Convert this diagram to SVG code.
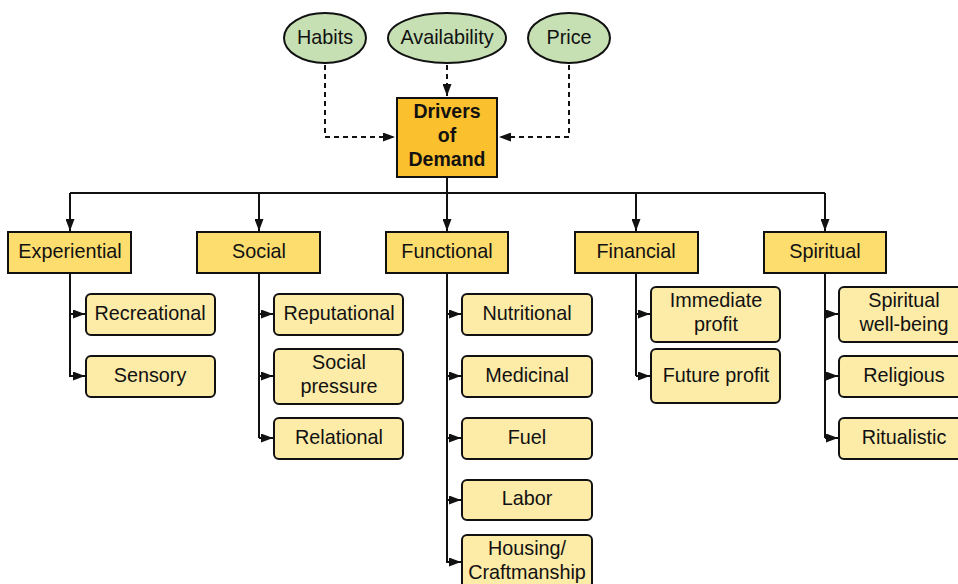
<svg xmlns="http://www.w3.org/2000/svg" width="958" height="584" viewBox="0 0 958 584">
<style>
text{font-family:"Liberation Sans",Arial,sans-serif;font-size:19.8px;fill:#111;text-anchor:middle}
.b{font-weight:bold;font-size:19.5px}
.ell{fill:#c6e0b4;stroke:#111;stroke-width:2}
.drv{fill:#fbc02d;stroke:#111;stroke-width:2}
.cat{fill:#fcdd6e;stroke:#111;stroke-width:2}
.sub{fill:#fdeba8;stroke:#111;stroke-width:2}
.ln{fill:none;stroke:#111;stroke-width:2}
.ds{fill:none;stroke:#111;stroke-width:2;stroke-dasharray:5 4}
</style>
<defs>
<marker id="ah" markerUnits="userSpaceOnUse" markerWidth="13" markerHeight="9" refX="12" refY="4.5" orient="auto"><path d="M0,0 L12,4.5 L0,9 z" fill="#111"/></marker>
</defs>
<g id="connectors">
<path class="ds" d="M325,65 V137 H395" marker-end="url(#ah)"/>
<path class="ds" d="M447,65 V96" marker-end="url(#ah)"/>
<path class="ds" d="M569,65 V137 H499" marker-end="url(#ah)"/>
<path class="ln" d="M447,177 V193" stroke-width="3"/>
<path class="ln" d="M70,193 H825"/>
<path class="ln" d="M70,193 V231" marker-end="url(#ah)"/>
<path class="ln" d="M259,193 V231" marker-end="url(#ah)"/>
<path class="ln" d="M447,193 V231" marker-end="url(#ah)"/>
<path class="ln" d="M636,193 V231" marker-end="url(#ah)"/>
<path class="ln" d="M825,193 V231" marker-end="url(#ah)"/>
<path class="ln" d="M70,273 V377"/>
<path class="ln" d="M70,314 H85" marker-end="url(#ah)"/>
<path class="ln" d="M70,376 H85" marker-end="url(#ah)"/>
<path class="ln" d="M259,273 V438"/>
<path class="ln" d="M259,314 H273" marker-end="url(#ah)"/>
<path class="ln" d="M259,376 H273" marker-end="url(#ah)"/>
<path class="ln" d="M259,438 H273" marker-end="url(#ah)"/>
<path class="ln" d="M447,273 V563" stroke-width="2.5"/>
<path class="ln" d="M447,314 H461" marker-end="url(#ah)"/>
<path class="ln" d="M447,376 H461" marker-end="url(#ah)"/>
<path class="ln" d="M447,438 H461" marker-end="url(#ah)"/>
<path class="ln" d="M447,500 H461" marker-end="url(#ah)"/>
<path class="ln" d="M447,562 H461" marker-end="url(#ah)"/>
<path class="ln" d="M636,273 V376"/>
<path class="ln" d="M636,314 H650" marker-end="url(#ah)"/>
<path class="ln" d="M636,376 H650" marker-end="url(#ah)"/>
<path class="ln" d="M825,273 V438"/>
<path class="ln" d="M825,314 H838" marker-end="url(#ah)"/>
<path class="ln" d="M825,376 H838" marker-end="url(#ah)"/>
<path class="ln" d="M825,438 H838" marker-end="url(#ah)"/>
</g>
<g id="habits"><ellipse class="ell" cx="325" cy="38" rx="41" ry="25"/><text x="325" y="44">Habits</text></g>
<g id="availability"><ellipse class="ell" cx="447" cy="38" rx="59" ry="25"/><text x="447" y="44">Availability</text></g>
<g id="price"><ellipse class="ell" cx="569" cy="38" rx="41" ry="25"/><text x="569" y="44">Price</text></g>
<g id="drivers"><rect class="drv" x="397" y="98" width="100" height="79"/><text class="b" x="447" y="118">Drivers</text><text class="b" x="447" y="142">of</text><text class="b" x="447" y="166">Demand</text></g>
<g id="experiential"><rect class="cat" x="8" y="232" width="123" height="41"/><text x="70" y="258">Experiential</text></g>
<g id="social"><rect class="cat" x="197" y="232" width="123" height="41"/><text x="259" y="258">Social</text></g>
<g id="functional"><rect class="cat" x="386" y="232" width="122" height="41"/><text x="447" y="258">Functional</text></g>
<g id="financial"><rect class="cat" x="575" y="232" width="123" height="41"/><text x="636" y="258">Financial</text></g>
<g id="spiritual"><rect class="cat" x="764" y="232" width="122" height="41"/><text x="825" y="258">Spiritual</text></g>
<g id="recreational"><rect class="sub" x="86" y="294" width="129" height="41" rx="5"/><text x="150" y="320">Recreational</text></g>
<g id="sensory"><rect class="sub" x="86" y="356" width="129" height="41" rx="5"/><text x="150" y="382">Sensory</text></g>
<g id="reputational"><rect class="sub" x="274" y="294" width="129" height="41" rx="5"/><text x="339" y="320">Reputational</text></g>
<g id="socialpressure"><rect class="sub" x="274" y="349" width="129" height="55" rx="5"/><text x="339" y="369">Social</text><text x="339" y="393">pressure</text></g>
<g id="relational"><rect class="sub" x="274" y="418" width="129" height="41" rx="5"/><text x="339" y="444">Relational</text></g>
<g id="nutritional"><rect class="sub" x="462" y="294" width="130" height="41" rx="5"/><text x="527" y="320">Nutritional</text></g>
<g id="medicinal"><rect class="sub" x="462" y="356" width="130" height="41" rx="5"/><text x="527" y="382">Medicinal</text></g>
<g id="fuel"><rect class="sub" x="462" y="418" width="130" height="41" rx="5"/><text x="527" y="444">Fuel</text></g>
<g id="labor"><rect class="sub" x="462" y="480" width="130" height="40" rx="5"/><text x="527" y="505">Labor</text></g>
<g id="housing"><rect class="sub" x="462" y="535" width="130" height="56" rx="5"/><text x="527" y="555">Housing/</text><text x="527" y="579">Craftmanship</text></g>
<g id="immediate"><rect class="sub" x="651" y="287" width="129" height="55" rx="5"/><text x="716" y="307">Immediate</text><text x="716" y="331">profit</text></g>
<g id="future"><rect class="sub" x="651" y="349" width="129" height="54" rx="5"/><text x="716" y="382">Future profit</text></g>
<g id="wellbeing"><rect class="sub" x="839" y="287" width="130" height="55" rx="5"/><text x="904" y="307">Spiritual</text><text x="904" y="331">well-being</text></g>
<g id="religious"><rect class="sub" x="839" y="356" width="130" height="41" rx="5"/><text x="904" y="382">Religious</text></g>
<g id="ritualistic"><rect class="sub" x="839" y="418" width="130" height="41" rx="5"/><text x="904" y="444">Ritualistic</text></g>
</svg>
